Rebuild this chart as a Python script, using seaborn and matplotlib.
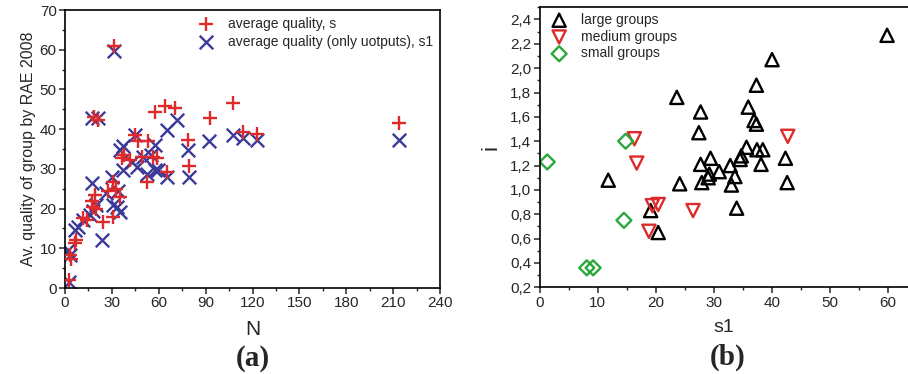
import pandas as pd
import seaborn as sns
import matplotlib
matplotlib.use("Agg")
import matplotlib.pyplot as plt
from matplotlib.ticker import MultipleLocator


# Panel (a): group size N vs average quality
n_s = [2.8, 3.2, 3.8, 6.4, 7.0, 11.7, 13.9, 17.0, 18.0, 19.2, 20.0, 24.0, 18.8, 21.3,
       31.6, 27.7, 30.5, 31.0, 32.5, 35.2, 36.3, 38.0, 41.6, 44.8, 47.0, 49.0, 53.3,
       52.3, 56.5, 58.7, 57.6, 64.0, 70.4, 65.0, 78.9, 79.6, 92.8, 107.3, 114.1, 123.0, 214.0]
s_vals = [2.0, 8.4, 7.2, 11.3, 12.2, 17.6, 17.0, 21.8, 20.3, 23.5, 20.0, 16.5, 43.0, 42.3,
          61.0, 24.3, 26.8, 18.0, 25.0, 23.0, 32.8, 33.5, 32.3, 38.6, 37.0, 33.0, 37.0,
          26.6, 33.0, 32.7, 44.2, 45.9, 45.2, 29.3, 37.3, 30.7, 42.9, 46.5, 39.4, 38.7, 41.6]

n_s1 = [2.8, 2.1, 3.2, 6.4, 8.5, 11.7, 16.0, 17.0, 18.0, 20.0, 23.5, 17.5, 21.3, 31.6,
        26.0, 30.0, 31.0, 33.0, 34.0, 35.2, 35.2, 37.0, 37.3, 42.7, 44.8, 46.0, 50.0,
        52.3, 55.0, 57.6, 57.6, 59.7, 65.0, 65.0, 71.5, 78.9, 79.6, 92.4, 107.7, 114.1,
        123.0, 213.8]
s1_vals = [1.6, 9.6, 8.3, 14.6, 15.4, 17.1, 18.5, 26.5, 19.5, 21.0, 12.1, 42.8, 42.7, 59.8,
           24.0, 28.0, 21.0, 20.5, 24.5, 19.2, 34.7, 35.8, 29.7, 31.8, 38.5, 30.5, 33.0,
           28.8, 33.5, 36.0, 29.7, 29.7, 28.0, 39.8, 42.3, 34.7, 27.9, 37.0, 38.5, 37.7,
           37.3, 37.3]

# Panel (b): s1 vs i by group size
large_s1 = [59.8, 40.0, 37.3, 23.6, 27.7, 27.4, 35.9, 36.9, 37.3, 35.6, 37.4, 38.4, 34.7,
            34.5, 38.1, 42.3, 42.6, 29.4, 27.7, 30.9, 29.2, 29.0, 27.9, 32.8, 33.6, 33.0,
            24.1, 11.8, 33.9, 19.1, 20.4]
large_i = [2.27, 2.07, 1.86, 1.76, 1.64, 1.47, 1.68, 1.57, 1.54, 1.35, 1.33, 1.33, 1.28,
           1.25, 1.21, 1.26, 1.06, 1.26, 1.21, 1.15, 1.13, 1.10, 1.06, 1.20, 1.11, 1.04,
           1.05, 1.08, 0.85, 0.83, 0.65]
medium_s1 = [16.3, 16.7, 42.7, 19.4, 20.4, 26.4, 18.8]
medium_i = [1.42, 1.22, 1.44, 0.87, 0.88, 0.83, 0.66]
small_s1 = [1.3, 14.8, 14.5, 8.1, 9.2]
small_i = [1.23, 1.40, 0.75, 0.36, 0.36]

i_ticks = [0.2, 0.4, 0.6, 0.8, 1.0, 1.2, 1.4, 1.6, 1.8, 2.0, 2.2, 2.4]
i_ticklabels = ["0,2", "0,4", "0,6", "0,8", "1,0", "1,2", "1,4", "1,6", "1,8", "2,0", "2,2", "2,4"]

RED = "#dd2a2a"
BLUE = "#3c3a98"
GREEN = "#2aa83a"

sns.set_style("ticks")
plt.rcParams["font.family"] = ["Liberation Sans", "DejaVu Sans"]
plt.rcParams["axes.linewidth"] = 1.2
plt.rcParams["xtick.major.size"] = 4
plt.rcParams["ytick.major.size"] = 4
plt.rcParams["xtick.minor.size"] = 2.5
plt.rcParams["ytick.minor.size"] = 2.5
plt.rcParams["xtick.major.width"] = 1.1
plt.rcParams["ytick.major.width"] = 1.1
plt.rcParams["xtick.minor.width"] = 1.0
plt.rcParams["ytick.minor.width"] = 1.0

fig = plt.figure(figsize=(9.08, 3.74), dpi=100)
ax1 = fig.add_axes([65 / 908, 1 - 288 / 374, 375 / 908, 278 / 374])
ax2 = fig.add_axes([539.7 / 908, 1 - 287.3 / 374, 368.3 / 908, 280 / 374])

# ---- panel (a)
df_s = pd.DataFrame({"N": n_s, "val": s_vals})
df_s1 = pd.DataFrame({"N": n_s1, "val": s1_vals})
sns.scatterplot(data=df_s, x="N", y="val", marker="+", s=115, color=RED, linewidth=1.7,
                label="average quality, s", ax=ax1, zorder=3)
sns.scatterplot(data=df_s1, x="N", y="val", marker="x", s=95, color=BLUE, linewidth=1.7,
                label="average quality (only uotputs), s1", ax=ax1, zorder=2)
ax1.set_xlim(0, 240)
ax1.set_ylim(0, 70)
ax1.xaxis.set_major_locator(MultipleLocator(30))
ax1.xaxis.set_minor_locator(MultipleLocator(15))
ax1.yaxis.set_major_locator(MultipleLocator(10))
ax1.yaxis.set_minor_locator(MultipleLocator(5))
ax1.tick_params(labelsize=11, pad=2)
ax1.set_xlabel("N", fontsize=15, labelpad=7)
ax1.set_ylabel("Av. quality of group by RAE 2008", fontsize=11.5, labelpad=3)
for sp in ax1.spines.values():
    sp.set_visible(True)
    sp.set_color("black")
ax1.legend(loc="upper right", frameon=False, fontsize=10, handletextpad=0.6,
           borderaxespad=0.1, labelspacing=0.3, markerscale=1.0)

# ---- panel (b)
groups = [
    (large_s1, large_i, "^", "black", "large groups"),
    (medium_s1, medium_i, "v", RED, "medium groups"),
    (small_s1, small_i, "D", GREEN, "small groups"),
]
for xs, ys, mk, col, lab in groups:
    d = pd.DataFrame({"s1": xs, "i": ys})
    sns.scatterplot(data=d, x="s1", y="i", marker=mk, s=90 if mk != "D" else 58,
                    color=col, facecolor="none", edgecolor=col, linewidth=1.7,
                    label=lab, ax=ax2)
ax2.set_xlim(0, 63.4)
ax2.set_ylim(0.2, 2.5)
ax2.xaxis.set_major_locator(MultipleLocator(10))
ax2.xaxis.set_minor_locator(MultipleLocator(5))
ax2.set_yticks(i_ticks)
ax2.set_yticklabels(i_ticklabels)
ax2.yaxis.set_minor_locator(MultipleLocator(0.1))
ax2.tick_params(labelsize=11, pad=2)
ax2.set_xlabel("s1", fontsize=14, labelpad=7)
ax2.set_ylabel("i", fontsize=16, labelpad=6)
for sp in ax2.spines.values():
    sp.set_visible(True)
    sp.set_color("black")
ax2.spines["right"].set_visible(False)
ax2.legend(loc="upper left", frameon=False, fontsize=10, handletextpad=0.6,
           borderaxespad=0.1, labelspacing=0.2, borderpad=0.3)

fig.text(253 / 908, 1 - 358 / 374, "(a)", ha="center", va="center",
         fontsize=21, fontweight="bold", family=["Liberation Serif", "DejaVu Serif"])
fig.text(728 / 908, 1 - 357 / 374, "(b)", ha="center", va="center",
         fontsize=21, fontweight="bold", family=["Liberation Serif", "DejaVu Serif"])

fig.savefig("out.png", dpi=100)
